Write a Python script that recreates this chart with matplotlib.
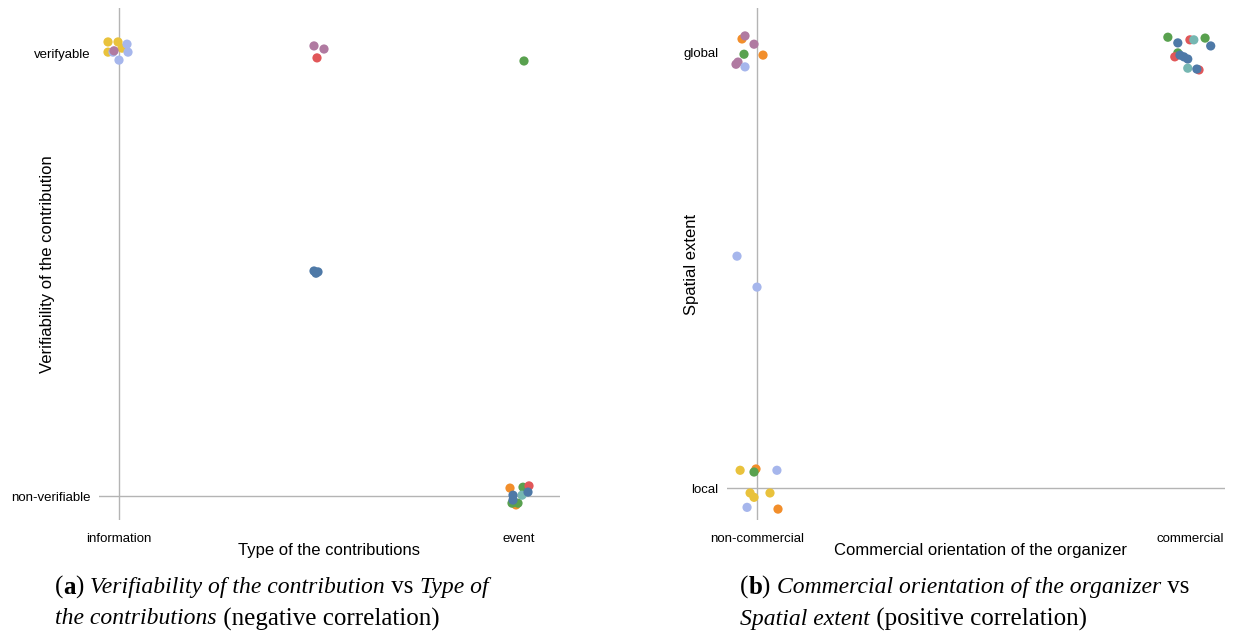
import matplotlib
matplotlib.use("Agg")
import matplotlib.pyplot as plt

# colour groups used by the points
palette = {
    "yellow": "#e9c23c",
    "lightblue": "#a6b6ec",
    "purple": "#b07aa1",
    "red": "#e15759",
    "blue": "#4e79a7",
    "green": "#59a14f",
    "orange": "#f28e2b",
    "teal": "#76b7b2",
}

# panel (a): type of contribution (0 = information, 1 = event) vs verifiability
a_xticks = ["information", "event"]
a_yticks = ["non-verifiable", "verifyable"]
a_x = [-0.0275, -0.0025, 0.0075, -0.0275, 0.02, -0.015, 0.0225, 0.0, -0.0125,
       0.4875, 0.5125, 0.495, 0.4875, 0.4975, 0.4925, 1.0125,
       0.9775, 0.9925, 0.9825, 0.9975, 1.01, 1.025, 1.0075, 1.0225, 0.985, 0.985]
a_y = [1.025, 1.025, 1.011, 1.002, 1.020, 1.002, 1.002, 0.984, 1.005,
       1.016, 1.009, 0.989, 0.508, 0.506, 0.503, 0.982,
       0.018, -0.020, -0.016, -0.016, 0.020, 0.023, 0.002, 0.009, 0.002, -0.009]
a_c = ["yellow", "yellow", "yellow", "yellow", "lightblue", "lightblue", "lightblue", "lightblue", "purple",
       "purple", "purple", "red", "blue", "blue", "blue", "green",
       "orange", "orange", "green", "green", "green", "red", "teal", "blue", "blue", "blue"]

# panel (b): commercial orientation (0 = non-commercial, 1 = commercial) vs spatial extent
b_xticks = ["non-commercial", "commercial"]
b_yticks = ["local", "global"]
b_x = [-0.0346, -0.0277, -0.0069, -0.030, 0.0139, -0.0439, -0.0485, -0.0277, -0.0462, 0.0,
       0.949, 0.972, 1.0, 1.009, 1.035, 1.048, 0.972, 0.965, 0.977, 0.986, 0.995, 0.995, 1.021, 1.016,
       -0.039, -0.0023, -0.0069, 0.046, -0.016, -0.0069, 0.030, -0.023, 0.0485]
b_y = [1.030, 1.037, 1.018, 0.995, 0.993, 0.977, 0.972, 0.966, 0.532, 0.461,
       1.034, 1.021, 1.028, 1.028, 1.032, 1.014, 0.998, 0.989, 0.993, 0.989, 0.984, 0.963, 0.959, 0.961,
       0.041, 0.044, 0.037, 0.041, -0.011, -0.021, -0.011, -0.044, -0.048]
b_c = ["orange", "purple", "purple", "green", "orange", "purple", "purple", "lightblue", "lightblue", "lightblue",
       "green", "blue", "red", "teal", "green", "blue", "green", "red", "blue", "blue", "blue", "teal", "red", "blue",
       "yellow", "orange", "green", "lightblue", "yellow", "yellow", "yellow", "lightblue", "orange"]

a_xlabel = "Type of the contributions"
a_ylabel = "Verifiability of the contribution"
b_xlabel = "Commercial orientation of the organizer"
b_ylabel = "Spatial extent"

W, H = 1235, 635
fig = plt.figure(figsize=(W / 100, H / 100), dpi=100)
plt.rcParams["font.family"] = ["Liberation Sans", "DejaVu Sans"]


def panel(rect, xs, ys, cs, xticks, yticks, xlabel, ylabel, xlim, ylim, ylab_px, xlab_px):
    l, r, t, b = rect
    ax = fig.add_axes([l / W, 1 - b / H, (r - l) / W, (b - t) / H])
    ax.axvline(0, color="#b4b4b4", lw=1.0, zorder=1)
    ax.axhline(0, color="#b4b4b4", lw=1.0, zorder=1)
    ax.scatter(xs, ys, c=[palette[c] for c in cs], s=44, linewidths=0, zorder=3)
    ax.set_xlim(*xlim)
    ax.set_ylim(*ylim)
    for s in ax.spines.values():
        s.set_visible(False)
    ax.set_xticks([0, 1])
    ax.set_xticklabels(xticks, fontsize=9.5)
    ax.set_yticks([0, 1])
    ax.set_yticklabels(yticks, fontsize=9.5)
    ax.tick_params(length=0)
    ax.tick_params(axis="x", pad=9)
    ax.tick_params(axis="y", pad=6)
    ax.set_xlabel(xlabel, fontsize=12)
    ax.set_ylabel(ylabel, fontsize=12)
    ax.xaxis.set_label_coords((xlab_px - l) / (r - l), -(543 - b) / (b - t))
    ax.yaxis.set_label_coords((ylab_px - l) / (r - l), 0.5)
    ax.patch.set_alpha(0)
    return ax


panel((99, 560, 8, 520), a_x, a_y, a_c, a_xticks, a_yticks, a_xlabel, a_ylabel,
      (-0.05, 1.1025), (-0.054, 1.1016), 55, 329)
panel((727, 1225, 8, 520), b_x, b_y, b_c, b_xticks, b_yticks, b_xlabel, b_ylabel,
      (-0.0693, 1.081), (-0.073, 1.101), 699, 980)

renderer = fig.canvas.get_renderer()


def caption(x0, y0, segments):
    x = x0
    for txt, style, weight in segments:
        size = 17 if style == "italic" else 18
        t = fig.text(x / W, 1 - y0 / H, txt, fontsize=size, family="Liberation Serif",
                     style=style, weight=weight, va="center", ha="left")
        bb = t.get_window_extent(renderer=renderer)
        x += bb.width


caption(55, 587, [("(", "normal", "normal"), ("a", "normal", "bold"), (") ", "normal", "normal"),
                  ("Verifiability of the contribution", "italic", "normal"), (" vs ", "normal", "normal"),
                  ("Type of", "italic", "normal")])
caption(55, 619, [("the contributions", "italic", "normal"), (" (negative correlation)", "normal", "normal")])
caption(740, 587, [("(", "normal", "normal"), ("b", "normal", "bold"), (") ", "normal", "normal"),
                   ("Commercial orientation of the organizer", "italic", "normal"), (" vs", "normal", "normal")])
caption(740, 619, [("Spatial extent", "italic", "normal"), (" (positive correlation)", "normal", "normal")])

fig.savefig("out.png", dpi=100)
